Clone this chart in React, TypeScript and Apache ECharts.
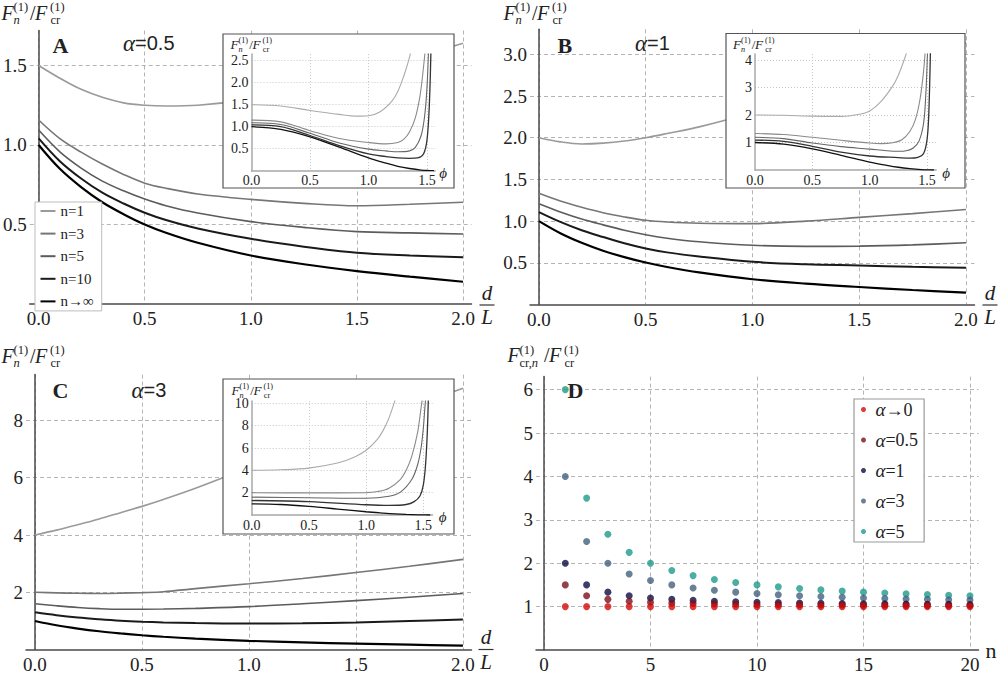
import React, { useEffect, useRef } from "react";
import * as echarts from "echarts";

const SERIF = "Liberation Serif";
const SANS = "Liberation Sans";
const INK = "#222";

// ---- Panels A–C: F_n / F_cr against d/L ----
const dL = [0, 0.1, 0.2, 0.3, 0.4, 0.5, 0.6, 0.75, 1.0, 1.25, 1.5, 1.75, 2.0];

// alpha = 0.5
const a05_n1 = [1.5, 1.42, 1.35, 1.3, 1.265, 1.25, 1.245, 1.25, 1.29, 1.36, 1.44, 1.54, 1.64];
const a05_n3 = [1.157, 1.04, 0.955, 0.88, 0.815, 0.76, 0.728, 0.692, 0.658, 0.633, 0.618, 0.627, 0.64];
const a05_n5 = [1.094, 0.957, 0.855, 0.773, 0.712, 0.66, 0.618, 0.572, 0.518, 0.482, 0.455, 0.447, 0.44];
const a05_n10 = [1.042, 0.898, 0.789, 0.7, 0.632, 0.574, 0.528, 0.475, 0.41, 0.36, 0.322, 0.305, 0.294];
const a05_ninf = [1.0, 0.85, 0.735, 0.64, 0.565, 0.5, 0.448, 0.385, 0.305, 0.25, 0.207, 0.172, 0.14];

// alpha = 1
const a1_n1 = [2.0, 1.95, 1.925, 1.935, 1.96, 2.0, 2.05, 2.13, 2.3, 2.49, 2.7, 2.92, 3.14];
const a1_n3 = [1.333, 1.24, 1.165, 1.1, 1.05, 1.01, 0.99, 0.975, 0.97, 1.0, 1.045, 1.09, 1.14];
const a1_n5 = [1.208, 1.11, 1.025, 0.955, 0.89, 0.836, 0.795, 0.752, 0.71, 0.697, 0.7, 0.715, 0.74];
const a1_n10 = [1.108, 0.99, 0.89, 0.81, 0.735, 0.672, 0.625, 0.575, 0.512, 0.482, 0.468, 0.452, 0.44];
const a1_ninf = [1.0, 0.855, 0.74, 0.645, 0.568, 0.503, 0.45, 0.385, 0.303, 0.25, 0.21, 0.174, 0.142];

// alpha = 3
const a3_n1 = [4.0, 4.17, 4.36, 4.56, 4.78, 5.0, 5.24, 5.63, 6.35, 7.06, 7.76, 8.45, 9.12];
const a3_n3 = [2.0, 1.98, 1.965, 1.96, 1.97, 1.99, 2.02, 2.13, 2.3, 2.48, 2.69, 2.91, 3.15];
const a3_n5 = [1.6, 1.53, 1.47, 1.43, 1.41, 1.41, 1.415, 1.44, 1.5, 1.6, 1.71, 1.83, 1.96];
const a3_n10 = [1.3, 1.2, 1.12, 1.06, 1.01, 0.975, 0.95, 0.925, 0.91, 0.92, 0.95, 1.0, 1.05];
const a3_ninf = [1.0, 0.85, 0.735, 0.64, 0.565, 0.5, 0.448, 0.385, 0.305, 0.25, 0.207, 0.172, 0.14];

// ---- Insets: F_n / F_cr against phi ----
// alpha = 0.5
const iA_phi_n1 = [0, 0.25, 0.5, 0.75, 0.9, 1.0, 1.1, 1.2, 1.25, 1.3, 1.34, 1.38];
const iA_n1 = [1.5, 1.47, 1.37, 1.28, 1.24, 1.25, 1.34, 1.58, 1.8, 2.14, 2.48, 2.9];
const iA_phi_n3 = [0, 0.25, 0.5, 0.75, 1.0, 1.15, 1.25, 1.3, 1.35, 1.4, 1.44, 1.47, 1.49];
const iA_n3 = [1.15, 1.11, 0.91, 0.73, 0.64, 0.61, 0.64, 0.71, 0.88, 1.2, 1.7, 2.35, 2.9];
const iA_phi_n5 = [0, 0.25, 0.5, 0.75, 1.0, 1.15, 1.25, 1.35, 1.4, 1.45, 1.48, 1.5, 1.515];
const iA_n5 = [1.09, 1.05, 0.85, 0.63, 0.49, 0.45, 0.43, 0.45, 0.53, 0.8, 1.25, 1.9, 2.9];
const iA_phi_n10 = [0, 0.25, 0.5, 0.75, 1.0, 1.15, 1.25, 1.35, 1.42, 1.47, 1.5, 1.52, 1.535];
const iA_n10 = [1.04, 1.0, 0.8, 0.57, 0.38, 0.32, 0.29, 0.28, 0.29, 0.38, 0.7, 1.5, 2.9];
const iA_phi_ninf = [0, 0.25, 0.5, 0.75, 1.0, 1.15, 1.25, 1.35, 1.45, 1.52, 1.56];
const iA_ninf = [1.0, 0.94, 0.77, 0.535, 0.29, 0.17, 0.1, 0.05, 0.015, 0.003, 0.0];

// alpha = 1
const iB_phi_n1 = [0, 0.25, 0.5, 0.75, 0.9, 1.0, 1.1, 1.2, 1.25, 1.3, 1.34];
const iB_n1 = [2.0, 1.99, 1.96, 1.95, 2.02, 2.15, 2.5, 3.05, 3.45, 4.0, 4.5];
const iB_phi_n3 = [0, 0.25, 0.5, 0.75, 1.0, 1.1, 1.2, 1.28, 1.35, 1.4, 1.44, 1.47, 1.485];
const iB_n3 = [1.33, 1.29, 1.19, 1.08, 0.98, 0.96, 0.99, 1.1, 1.4, 1.85, 2.6, 3.6, 4.4];
const iB_phi_n5 = [0, 0.25, 0.5, 0.75, 1.0, 1.15, 1.25, 1.32, 1.38, 1.43, 1.47, 1.49, 1.505];
const iB_n5 = [1.19, 1.14, 0.98, 0.85, 0.76, 0.7, 0.68, 0.7, 0.8, 1.05, 1.7, 2.8, 4.4];
const iB_phi_n10 = [0, 0.25, 0.5, 0.75, 1.0, 1.25, 1.35, 1.42, 1.47, 1.5, 1.515, 1.53];
const iB_n10 = [1.09, 1.04, 0.86, 0.65, 0.51, 0.45, 0.43, 0.46, 0.6, 1.1, 2.0, 4.4];
const iB_phi_ninf = [0, 0.25, 0.5, 0.75, 1.0, 1.15, 1.25, 1.35, 1.45, 1.52, 1.56];
const iB_ninf = [1.0, 0.94, 0.77, 0.535, 0.29, 0.17, 0.1, 0.05, 0.015, 0.003, 0.0];

// alpha = 3
const iC_phi_n1 = [0, 0.25, 0.5, 0.75, 0.9, 1.0, 1.1, 1.15, 1.2, 1.25, 1.27];
const iC_n1 = [4.0, 4.05, 4.2, 4.65, 5.2, 5.8, 6.8, 7.6, 8.7, 10.2, 10.9];
const iC_phi_n3 = [0, 0.5, 1.0, 1.1, 1.2, 1.3, 1.35, 1.4, 1.45, 1.48, 1.5];
const iC_n3 = [2.0, 1.98, 2.0, 2.1, 2.4, 3.2, 4.0, 5.3, 7.4, 9.6, 11];
const iC_phi_n5 = [0, 0.5, 1.0, 1.2, 1.3, 1.4, 1.45, 1.48, 1.5, 1.515, 1.525];
const iC_n5 = [1.6, 1.55, 1.5, 1.68, 2.05, 3.2, 4.5, 6.0, 7.8, 9.8, 11];
const iC_phi_n10 = [0, 0.5, 1.0, 1.2, 1.35, 1.42, 1.47, 1.5, 1.52, 1.535, 1.545];
const iC_n10 = [1.3, 1.2, 0.92, 0.86, 0.94, 1.2, 1.7, 2.7, 4.6, 7.5, 11];
const iC_phi_ninf = [0, 0.25, 0.5, 0.75, 1.0, 1.15, 1.25, 1.35, 1.45, 1.52, 1.56];
const iC_ninf = [1.0, 0.94, 0.77, 0.535, 0.29, 0.17, 0.1, 0.05, 0.015, 0.003, 0.0];

// ---- Panel D: F_cr,n / F_cr against n ----
const modes = [1, 2, 3, 4, 5, 6, 7, 8, 9, 10, 11, 12, 13, 14, 15, 16, 17, 18, 19, 20];
const d_a0 = [1, 1, 1, 1, 1, 1, 1, 1, 1, 1, 1, 1, 1, 1, 1, 1, 1, 1, 1, 1];
const d_a05 = [1.5, 1.25, 1.167, 1.125, 1.1, 1.083, 1.071, 1.063, 1.056, 1.05, 1.045, 1.042, 1.038, 1.036, 1.033, 1.031, 1.029, 1.028, 1.026, 1.025];
const d_a1 = [2, 1.5, 1.333, 1.25, 1.2, 1.167, 1.143, 1.125, 1.111, 1.1, 1.091, 1.083, 1.077, 1.071, 1.067, 1.063, 1.059, 1.056, 1.053, 1.05];
const d_a3 = [4, 2.5, 2, 1.75, 1.6, 1.5, 1.429, 1.375, 1.333, 1.3, 1.273, 1.25, 1.231, 1.214, 1.2, 1.188, 1.176, 1.167, 1.158, 1.15];
const d_a5 = [6, 3.5, 2.667, 2.25, 2, 1.833, 1.714, 1.625, 1.556, 1.5, 1.455, 1.417, 1.385, 1.357, 1.333, 1.313, 1.294, 1.278, 1.263, 1.25];

const curveNames = ["n=1", "n=3", "n=5", "n=10", "n→∞"];
const alphaNames = ["α→0", "α=0.5", "α=1", "α=3", "α=5"];

const mainStyles = [
  { color: "#9a9a9a", width: 1.6 },
  { color: "#767676", width: 1.6 },
  { color: "#5c5c5c", width: 1.6 },
  { color: "#1a1a1a", width: 2 },
  { color: "#000000", width: 2.2 },
];
const insetStyles = [
  { color: "#ababab", width: 1.1 },
  { color: "#8a8a8a", width: 1.1 },
  { color: "#666666", width: 1.1 },
  { color: "#333333", width: 1.3 },
  { color: "#111111", width: 1.3 },
];
const dotColors = ["#d10a0a", "#7a0f1a", "#0d0c45", "#43607d", "#1d9a8c"];

const zip = (xs: number[], ys: number[]) => xs.map((x, i) => [x, ys[i]]);

function mainLines(idx: number, curves: number[][]) {
  return curves.map((ys, k) => ({
    type: "line",
    name: curveNames[k],
    xAxisIndex: idx,
    yAxisIndex: idx,
    data: zip(dL, ys),
    smooth: 0.35,
    symbol: "none",
    silent: true,
    z: 2,
    lineStyle: { color: mainStyles[k].color, width: mainStyles[k].width },
    itemStyle: { color: mainStyles[k].color },
  }));
}

function insetLines(idx: number, curves: number[][][]) {
  return curves.map(([xs, ys], k) => ({
    type: "line",
    name: "inset " + curveNames[k],
    xAxisIndex: idx,
    yAxisIndex: idx,
    data: zip(xs, ys),
    smooth: 0.35,
    symbol: "none",
    silent: true,
    clip: true,
    z: 7,
    lineStyle: { color: insetStyles[k].color, width: insetStyles[k].width },
  }));
}

const axisLineMain = { color: "#4a4a4a", width: 1.5 };
const dashedSplit = {
  show: true,
  showMinLine: false,
  showMaxLine: false,
  lineStyle: { color: "#b4b4b4", type: [4, 3], width: 1 },
};
const dottedSplit = {
  show: true,
  showMinLine: false,
  showMaxLine: false,
  lineStyle: { color: "#c6c6c6", type: [1, 2], width: 1 },
};

const fix1 = (v: number) => v.toFixed(1);
const int0 = (v: number) => String(Math.round(v));

function mainX(gridIndex: number, min: number, max: number, step: number, fmt: (v: number) => string) {
  return {
    type: "value",
    gridIndex,
    min,
    max,
    minInterval: step,
    maxInterval: step,
    axisLine: { show: true, onZero: false, lineStyle: axisLineMain },
    axisTick: { show: false },
    splitLine: dashedSplit,
    axisLabel: {
      formatter: fmt,
      showMinLabel: false,
      showMaxLabel: false,
      margin: 5,
      fontFamily: SERIF,
      fontSize: 19,
      color: INK,
    },
  };
}

function mainY(gridIndex: number, max: number, step: number, fmt: (v: number) => string) {
  return {
    type: "value",
    gridIndex,
    min: 0,
    max,
    interval: step,
    axisLine: { show: true, onZero: true, lineStyle: axisLineMain },
    axisTick: { show: false },
    splitLine: dashedSplit,
    axisLabel: {
      formatter: fmt,
      showMinLabel: false,
      showMaxLabel: false,
      margin: 3,
      fontFamily: SERIF,
      fontSize: 19,
      color: INK,
    },
  };
}

const insetAxisLine = { color: "#a8a8a8", width: 1.5 };

function insetX(gridIndex: number, max: number) {
  return {
    type: "value",
    gridIndex,
    min: 0,
    max,
    interval: 0.5,
    z: 6,
    axisLine: { show: true, onZero: false, lineStyle: insetAxisLine },
    axisTick: { show: false },
    splitLine: dottedSplit,
    axisLabel: {
      formatter: fix1,
      showMinLabel: true,
      showMaxLabel: false,
      margin: 3,
      fontFamily: SERIF,
      fontSize: 14,
      color: INK,
    },
  };
}

function insetY(gridIndex: number, max: number, step: number, fmt: (v: number) => string) {
  return {
    type: "value",
    gridIndex,
    min: 0,
    max,
    interval: step,
    z: 6,
    axisLine: { show: true, onZero: false, lineStyle: insetAxisLine },
    axisTick: { show: false },
    splitLine: dottedSplit,
    axisLabel: {
      formatter: fmt,
      showMinLabel: false,
      showMaxLabel: false,
      margin: 3,
      fontFamily: SERIF,
      fontSize: 14,
      color: INK,
    },
  };
}

// Text helpers for the graphic layer
function txt(x: number, y: number, text: string, size: number, opts: any = {}) {
  return {
    type: "text",
    x,
    y,
    z: opts.z ?? 8,
    silent: true,
    style: {
      text,
      fontSize: size,
      fontFamily: opts.family ?? SERIF,
      fontStyle: opts.italic ? "italic" : "normal",
      fontWeight: opts.bold ? "bold" : "normal",
      fill: INK,
      align: opts.align ?? "left",
      verticalAlign: "middle",
      rich: opts.rich,
    },
  };
}

// F_n^(1) / F_cr^(1) axis title
function ratioLabel(x: number, y: number, s: number, crn: boolean) {
  const big = 20;
  const small = 12.5;
  const sh = crn ? 8 : 0;
  const subRich = {
    r: { fontFamily: SERIF, fontSize: small, fill: INK },
    i: { fontFamily: SERIF, fontSize: small, fontStyle: "italic", fill: INK },
  };
  return {
    type: "group",
    x,
    y,
    scaleX: s,
    scaleY: s,
    z: 8,
    children: [
      txt(1.5, 12.5, "F", big, { italic: true }),
      txt(13.5, 7, "(1)", small),
      crn
        ? txt(13.5, 20, "{r|cr,}{i|n}", small, { rich: subRich })
        : txt(13.5, 20, "n", small, { italic: true }),
      txt(30 + sh, 12.5, "/", big),
      txt(35 + sh, 12.5, "F", big, { italic: true }),
      txt(50 + sh, 7, "(1)", small),
      txt(50.5 + sh, 20, "cr", small),
    ],
  };
}

// d over L fraction used as x-axis title
function dOverL(cx: number, barY: number) {
  return [
    txt(cx, barY - 12.5, "d", 21, { italic: true, align: "center" }),
    {
      type: "line",
      z: 8,
      silent: true,
      shape: { x1: cx - 7.5, y1: barY, x2: cx + 7.5, y2: barY },
      style: { stroke: "#333", lineWidth: 1.2 },
    },
    txt(cx, barY + 12, "L", 21, { italic: true, align: "center" }),
  ];
}

function alphaLabel(x: number, y: number, value: string) {
  return txt(x, y, "{a|α}{b|=" + value + "}", 20, {
    rich: {
      a: { fontFamily: SERIF, fontStyle: "italic", fontSize: 23, fill: INK },
      b: { fontFamily: SANS, fontSize: 20, fill: INK },
    },
  });
}

function insetBox(x: number, y: number, w: number, h: number) {
  return {
    type: "rect",
    z: 5,
    silent: true,
    shape: { x, y, width: w, height: h },
    style: { fill: "#ffffff", stroke: "#555", lineWidth: 1.2 },
  };
}

const option: any = {
  animation: false,
  backgroundColor: "#ffffff",
  grid: [
    { left: 26, top: 30.5, width: 445.5, height: 273.5 }, // A
    { left: 530, top: 29.3, width: 444.5, height: 275.2 }, // B
    { left: 26, top: 374.6, width: 445.5, height: 275 }, // C
    { left: 536, top: 376.6, width: 442.5, height: 273.4 }, // D
    { left: 251.5, top: 54.1, width: 183.7, height: 116.6 }, // inset A
    { left: 755, top: 54, width: 181.2, height: 116 }, // inset B
    { left: 251.7, top: 401.1, width: 180.8, height: 113.9 }, // inset C
  ],
  xAxis: [
    mainX(0, -0.042, 2.04, 0.5, fix1),
    mainX(1, -0.042, 2.04, 0.5, fix1),
    mainX(2, -0.042, 2.04, 0.5, fix1),
    mainX(3, -0.376, 20.4, 5, int0),
    insetX(4, 1.57),
    insetX(5, 1.58),
    insetX(6, 1.58),
  ],
  yAxis: [
    mainY(0, 1.72, 0.5, fix1),
    mainY(1, 3.3, 0.5, fix1),
    mainY(2, 9.6, 2, int0),
    mainY(3, 6.3, 1, int0),
    insetY(4, 2.65, 0.5, fix1),
    insetY(5, 4.22, 1, int0),
    insetY(6, 10.2, 2, int0),
  ],
  legend: [
    {
      orient: "vertical",
      left: 35,
      top: 202,
      data: curveNames,
      selectedMode: false,
      icon: "rect",
      itemWidth: 15,
      itemHeight: 2,
      itemGap: 7.6,
      padding: [1.5, 8, 2, 5.5],
      backgroundColor: "#ffffff",
      borderColor: "#bdbdbd",
      borderWidth: 1,
      textStyle: { fontFamily: SERIF, fontSize: 15, color: INK, lineHeight: 14 },
    },
    {
      orient: "vertical",
      left: 854,
      top: 399,
      data: alphaNames,
      selectedMode: false,
      icon: "circle",
      itemWidth: 14,
      itemHeight: 5,
      itemGap: 11.5,
      padding: [1, 6, 1, 7],
      backgroundColor: "#ffffff",
      borderColor: "#9a9a9a",
      borderWidth: 1.2,
      formatter: (name: string) => "{a|α}{t|" + name.slice(1) + "}",
      textStyle: {
        lineHeight: 14,
        rich: {
          a: { fontFamily: SERIF, fontStyle: "italic", fontSize: 19, color: INK, lineHeight: 14 },
          t: { fontFamily: SERIF, fontSize: 18, color: INK, lineHeight: 14 },
        },
      },
    },
  ],
  series: [
    ...mainLines(0, [a05_n1, a05_n3, a05_n5, a05_n10, a05_ninf]),
    ...mainLines(1, [a1_n1, a1_n3, a1_n5, a1_n10, a1_ninf]),
    ...mainLines(2, [a3_n1, a3_n3, a3_n5, a3_n10, a3_ninf]),
    ...insetLines(4, [
      [iA_phi_n1, iA_n1],
      [iA_phi_n3, iA_n3],
      [iA_phi_n5, iA_n5],
      [iA_phi_n10, iA_n10],
      [iA_phi_ninf, iA_ninf],
    ]),
    ...insetLines(5, [
      [iB_phi_n1, iB_n1],
      [iB_phi_n3, iB_n3],
      [iB_phi_n5, iB_n5],
      [iB_phi_n10, iB_n10],
      [iB_phi_ninf, iB_ninf],
    ]),
    ...insetLines(6, [
      [iC_phi_n1, iC_n1],
      [iC_phi_n3, iC_n3],
      [iC_phi_n5, iC_n5],
      [iC_phi_n10, iC_n10],
      [iC_phi_ninf, iC_ninf],
    ]),
    // draw the larger alpha first so the alpha→0 row sits on top
    ...[d_a5, d_a3, d_a1, d_a05, d_a0].map((ys, j) => {
      const k = 4 - j;
      return {
        type: "scatter",
        name: alphaNames[k],
        xAxisIndex: 3,
        yAxisIndex: 3,
        data: zip(modes, ys),
        symbol: "circle",
        symbolSize: 7,
        silent: true,
        itemStyle: { color: dotColors[k] },
        z: 3,
      };
    }),
  ],
  graphic: [
    insetBox(223, 34, 231, 154),
    insetBox(726, 33.5, 239, 154.5),
    insetBox(223, 379, 231, 155),

    ratioLabel(0, 0, 1, false),
    ratioLabel(502, 0, 1, false),
    ratioLabel(0, 343, 1, false),
    ratioLabel(506, 342.5, 1, true),
    ratioLabel(229.5, 36, 0.66, false),
    ratioLabel(732, 36, 0.66, false),
    ratioLabel(230.5, 382, 0.66, false),

    txt(52.5, 45, "A", 22, { bold: true }),
    txt(557.5, 45, "B", 22, { bold: true }),
    txt(52.5, 390.5, "C", 22, { bold: true }),
    txt(567.5, 390, "D", 22, { bold: true }),

    alphaLabel(123, 43, "0.5"),
    alphaLabel(635, 43, "1"),
    alphaLabel(131.5, 390, "3"),

    ...dOverL(487, 305),
    ...dOverL(990, 305),
    ...dOverL(486, 649.5),
    txt(991, 650, "n", 22, { align: "center" }),

    txt(443, 172.5, "ϕ", 15, { italic: true, align: "center" }),
    txt(946, 172.5, "ϕ", 15, { italic: true, align: "center" }),
    txt(442.5, 517, "ϕ", 15, { italic: true, align: "center" }),
  ],
};

export default function App() {
  const ref = useRef<HTMLDivElement>(null);
  useEffect(() => {
    if (!ref.current) return;
    const chart = echarts.init(ref.current, null, { renderer: "svg" });
    chart.setOption(option);
    return () => chart.dispose();
  }, []);
  return (
    <div
      ref={ref}
      style={{ position: "fixed", left: 0, top: 0, width: 1000, height: 675, background: "#fff" }}
    />
  );
}
